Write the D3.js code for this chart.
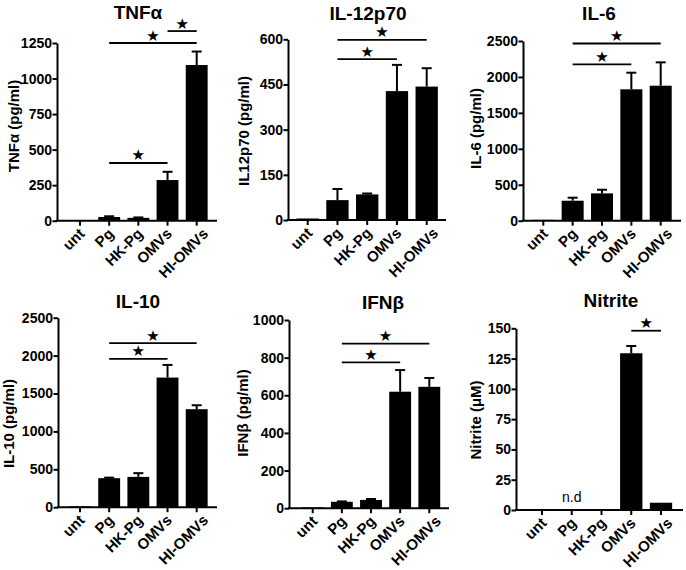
<!DOCTYPE html>
<html>
<head>
<meta charset="utf-8">
<script src="https://cdn.jsdelivr.net/npm/d3@7/dist/d3.min.js"></script>
<style>
  html, body { margin: 0; padding: 0; background: #fff; }
  svg { display: block; }
  text { font-family: "Liberation Sans", Arial, Helvetica, sans-serif; }
</style>
</head>
<body>
<svg id="chart" width="686" height="570"></svg>
<script>
// ---------------- data ----------------
const categories = ["unt", "Pg", "HK-Pg", "OMVs", "HI-OMVs"];

const tnfMean = [5, 26, 20, 286, 1095];
const tnfErr  = [0, 5, 3, 58, 95];
const tnfTicks = [0, 250, 500, 750, 1000, 1250];
const tnfSig = [["Pg", "OMVs", 406], ["Pg", "HI-OMVs", 1250], ["OMVs", "HI-OMVs", 1334]];

const il12Mean = [5, 66, 85, 428, 443];
const il12Err  = [0, 37, 3, 87, 61];
const il12Ticks = [0, 150, 300, 450, 600];
const il12Sig = [["Pg", "OMVs", 534], ["Pg", "HI-OMVs", 598]];

const il6Mean = [12, 278, 380, 1828, 1878];
const il6Err  = [0, 42, 51, 231, 325];
const il6Ticks = [0, 500, 1000, 1500, 2000, 2500];
const il6Sig = [["Pg", "OMVs", 2176], ["Pg", "HI-OMVs", 2465]];

const il10Mean = [10, 383, 400, 1710, 1293];
const il10Err  = [0, 7, 49, 167, 52];
const il10Ticks = [0, 500, 1000, 1500, 2000, 2500];
const il10Sig = [["Pg", "OMVs", 1958], ["Pg", "HI-OMVs", 2165]];

const ifnMean = [4, 34, 44, 619, 645];
const ifnErr  = [0, 2, 5, 115, 47];
const ifnTicks = [0, 200, 400, 600, 800, 1000];
const ifnSig = [["Pg", "OMVs", 775], ["Pg", "HI-OMVs", 875]];

const nitMean = [0, 0, 0, 129.4, 6];
const nitErr  = [0, 0, 0, 6, 0];
const nitTicks = [0, 25, 50, 75, 100, 125, 150];
const nitSig = [["OMVs", "HI-OMVs", 148]];

const titles = ["TNFα", "IL-12p70", "IL-6", "IL-10", "IFNβ", "Nitrite"];
const yLabels = ["TNFα (pg/ml)", "IL12p70 (pg/ml)", "IL-6 (pg/ml)", "IL-10 (pg/ml)", "IFNβ (pg/ml)", "Nitrite (μM)"];
const notes = [null, null, null, null, null, {cat: "Pg", text: "n.d"}];

// ---------------- layout (positions only) ----------------
const layout = [
  {ax: 57,  top: 43,    bottom: 220.7, c0: 80,    c4: 196.7, xEnd: 217, tx: 138, ty: 18.5,  lx: 15,  ly: 126},
  {ax: 288, top: 39.3,  bottom: 220,   c0: 307.7, c4: 426.7, xEnd: 446, tx: 368, ty: 19.5,  lx: 245, ly: 131},
  {ax: 523, top: 41,    bottom: 220.7, c0: 543.3, c4: 660.7, xEnd: 681, tx: 599, ty: 20,    lx: 477, ly: 128.5},
  {ax: 58,  top: 317.7, bottom: 507.2, c0: 80,    c4: 196.7, xEnd: 217, tx: 138, ty: 308,   lx: 10,  ly: 423.5},
  {ax: 289, top: 320,   bottom: 508.2, c0: 312.7, c4: 429.3, xEnd: 449, tx: 383, ty: 308.5, lx: 244, ly: 413},
  {ax: 516, top: 328.3, bottom: 510,   c0: 542,   c4: 661,   xEnd: 683, tx: 611, ty: 307,   lx: 477, ly: 420}
];
// extra horizontal shift of each rotated category label (px)
const labelShift = [0, 0, 0, 0, 7];

const panels = [
  {mean: tnfMean,  err: tnfErr,  ticks: tnfTicks,  sig: tnfSig},
  {mean: il12Mean, err: il12Err, ticks: il12Ticks, sig: il12Sig},
  {mean: il6Mean,  err: il6Err,  ticks: il6Ticks,  sig: il6Sig},
  {mean: il10Mean, err: il10Err, ticks: il10Ticks, sig: il10Sig},
  {mean: ifnMean,  err: ifnErr,  ticks: ifnTicks,  sig: ifnSig},
  {mean: nitMean,  err: nitErr,  ticks: nitTicks,  sig: nitSig}
];

const svg = d3.select("#chart");
const fmt = d3.format("d");

panels.forEach((p, i) => {
  const L = layout[i];
  const g = svg.append("g");
  const step = (L.c4 - L.c0) / 4;
  const x = d3.scaleBand()
    .domain(categories)
    .range([L.c0 - step / 2, L.c4 + step / 2])
    .paddingInner(0.25)
    .paddingOuter(0.125);
  const y = d3.scaleLinear()
    .domain([0, d3.max(p.ticks)])
    .range([L.bottom, L.top]);
  const bw = x.bandwidth();
  const cx = c => x(c) + bw / 2;

  const rows = categories.map((c, k) => ({cat: c, mean: p.mean[k], err: p.err[k]}));

  // bars
  g.selectAll("rect.bar").data(rows).join("rect")
    .attr("class", "bar")
    .attr("x", d => x(d.cat))
    .attr("width", bw)
    .attr("y", d => y(d.mean))
    .attr("height", d => Math.max(0, L.bottom - y(d.mean)))
    .attr("fill", "#000");

  // error bars (upper only)
  const eb = rows.filter(d => d.err > 0);
  g.selectAll("line.err").data(eb).join("line")
    .attr("class", "err")
    .attr("x1", d => cx(d.cat)).attr("x2", d => cx(d.cat))
    .attr("y1", d => y(d.mean)).attr("y2", d => y(d.mean + d.err))
    .attr("stroke", "#000").attr("stroke-width", 2);
  g.selectAll("line.cap").data(eb).join("line")
    .attr("class", "cap")
    .attr("x1", d => cx(d.cat) - 5).attr("x2", d => cx(d.cat) + 5)
    .attr("y1", d => y(d.mean + d.err)).attr("y2", d => y(d.mean + d.err))
    .attr("stroke", "#000").attr("stroke-width", 2);

  // y axis
  const yAxis = d3.axisLeft(y).tickValues(p.ticks).tickFormat(fmt)
    .tickSize(4.5).tickSizeOuter(0).tickPadding(0.5);
  const ya = g.append("g").attr("transform", `translate(${L.ax},0)`).call(yAxis);
  ya.select(".domain").attr("stroke-width", 2);
  ya.selectAll(".tick line").attr("stroke-width", 2);
  ya.selectAll(".tick text")
    .attr("font-size", 14).attr("font-weight", "bold")
    .attr("font-family", "Liberation Sans, Arial, sans-serif").attr("fill", "#000");

  // x axis
  const xAxis = d3.axisBottom(x).tickSize(5).tickSizeOuter(0).tickFormat("");
  const xa = g.append("g").attr("transform", `translate(0,${L.bottom})`).call(xAxis);
  xa.select(".domain").remove();
  xa.selectAll(".tick line").attr("stroke-width", 2);
  g.append("line")
    .attr("x1", L.ax - 1).attr("x2", L.xEnd)
    .attr("y1", L.bottom).attr("y2", L.bottom)
    .attr("stroke", "#000").attr("stroke-width", 2);

  // category labels rotated
  g.selectAll("text.cat").data(categories).join("text")
    .attr("class", "cat")
    .attr("text-anchor", "end")
    .attr("font-size", 15).attr("font-weight", "bold")
    .attr("transform", (c, k) => `translate(${cx(c) + 5.5 + labelShift[k]},${L.bottom + 14}) rotate(-45)`)
    .text(c => c);

  // significance lines and stars
  g.selectAll("line.sig").data(p.sig).join("line")
    .attr("class", "sig")
    .attr("x1", d => cx(d[0])).attr("x2", d => cx(d[1]))
    .attr("y1", d => y(d[2])).attr("y2", d => y(d[2]))
    .attr("stroke", "#000").attr("stroke-width", 1.8);
  g.selectAll("text.star").data(p.sig).join("text")
    .attr("class", "star")
    .attr("x", d => (cx(d[0]) + cx(d[1])) / 2)
    .attr("y", d => y(d[2]) - 2.5)
    .attr("text-anchor", "middle")
    .attr("font-size", 15)
    .style("font-family", "DejaVu Sans, sans-serif")
    .text("★");

  // title
  g.append("text")
    .attr("x", L.tx).attr("y", L.ty)
    .attr("text-anchor", "middle")
    .attr("font-size", 19).attr("font-weight", "bold")
    .text(titles[i]);

  // y label
  g.append("text")
    .attr("transform", `translate(${L.lx + 4},${L.ly}) rotate(-90)`)
    .attr("text-anchor", "middle")
    .attr("font-size", 15).attr("font-weight", "bold")
    .text(yLabels[i]);

  // note (n.d)
  if (notes[i]) {
    g.append("text")
      .attr("x", cx(notes[i].cat)).attr("y", L.bottom - 8.5)
      .attr("text-anchor", "middle")
      .attr("font-size", 14)
      .text(notes[i].text);
  }
});
</script>
</body>
</html>
